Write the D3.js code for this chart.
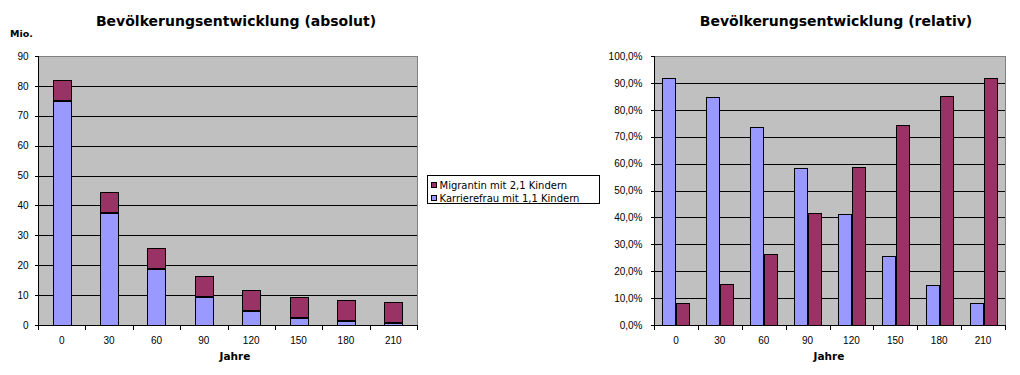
<!DOCTYPE html>
<html>
<head>
<meta charset="utf-8">
<script src="https://cdn.jsdelivr.net/npm/d3@7"></script>
<style>
  body { margin: 0; background: #fff; }
  svg { display: block; font-family: "DejaVu Sans", Verdana, sans-serif; }
  .axis path, .axis line { stroke: #000; shape-rendering: crispEdges; }
  .axis text { font-size: 10px; fill: #000; }
</style>
</head>
<body>
<svg id="chart" width="1020" height="375"></svg>
<script>
// Jahre
var years = ['0', '30', '60', '90', '120', '150', '180', '210'];
// absolut (Mio.)
var karriereAbs = [75, 37.5, 18.8, 9.4, 4.7, 2.3, 1.2, 0.6];
var migrantAbs = [6.6, 6.7, 6.7, 6.7, 6.7, 6.7, 6.7, 6.7];
// relativ (%)
var karriereRel = [91.9, 84.8, 73.7, 58.4, 41.1, 25.7, 14.9, 8.1];
var migrantRel = [8.1, 15.2, 26.3, 41.6, 58.9, 74.3, 85.1, 91.9];
var absTicks = [0, 10, 20, 30, 40, 50, 60, 70, 80, 90];
var relTicks = [0, 10, 20, 30, 40, 50, 60, 70, 80, 90, 100];

var seriesNames = ['Migrantin mit 2,1 Kindern', 'Karrierefrau mit 1,1 Kindern'];
var colors = { karriere: '#9999FF', migrant: '#993366' };

var svg = d3.select('#chart');
var de = d3.formatLocale({ decimal: ',', thousands: '.', grouping: [3], currency: ['', ' €'] });
var pct = de.format('.1f');
var r = Math.round;

function plotFrame(g, y, ticks, w, h, fmt, pad) {
  g.append('rect')
    .attr('x', 0.5).attr('y', 0.5).attr('width', w).attr('height', h)
    .attr('fill', '#C0C0C0').attr('stroke', '#808080')
    .attr('shape-rendering', 'crispEdges');

  // Gitternetz
  g.selectAll('.grid').data(ticks.slice(1, -1)).enter().append('line')
    .attr('x1', 0).attr('x2', w)
    .attr('y1', function(d) { return r(y(d)) + 0.5; })
    .attr('y2', function(d) { return r(y(d)) + 0.5; })
    .attr('stroke', '#000').attr('shape-rendering', 'crispEdges');

  g.append('g').attr('class', 'axis')
    .attr('transform', 'translate(0.5,0)')
    .call(d3.axisLeft(y).tickValues(ticks).tickSize(4).tickPadding(pad).tickFormat(fmt))
    .call(function(a) { a.select('.domain').attr('d', 'M0,' + (h + 0.5) + 'V0.5'); });
}

function xAxis(g, x, h) {
  var ax = g.append('g').attr('class', 'axis')
    .attr('transform', 'translate(0,' + (r(h) + 0.5) + ')')
    .call(d3.axisBottom(x).tickSize(0).tickPadding(11));
  ax.select('.domain').attr('d', 'M0,0H' + (x.range()[1] + 1));
  var bounds = years.map(function(c) { return x(c); }).concat([x.range()[1]]);
  ax.selectAll('.btick').data(bounds).enter().append('line')
    .attr('x1', function(d) { return r(d) + 0.5; })
    .attr('x2', function(d) { return r(d) + 0.5; })
    .attr('y1', 0).attr('y2', 4)
    .attr('stroke', '#000');
}

function bar(sel) {
  sel.attr('stroke', '#000').attr('stroke-width', 1).attr('shape-rendering', 'crispEdges');
}

// ---------- absolut ----------
var L = { left: 38, top: 56, w: 379, h: 269 };
var gl = svg.append('g').attr('transform', 'translate(' + L.left + ',' + L.top + ')');
var xl = d3.scaleBand().domain(years).range([0, L.w]);
var yl = d3.scaleLinear().domain([0, 90]).range([L.h, 0]);
plotFrame(gl, yl, absTicks, L.w, L.h, d3.format('d'), 6);

var barW = r(xl.bandwidth() * 0.38);
var stacked = years.map(function(c, i) {
  return { c: c, k: karriereAbs[i], m: migrantAbs[i] };
});
function bx(d) { return r(xl(d.c) + (xl.bandwidth() - barW) / 2) + 0.5; }
gl.selectAll('.bk').data(stacked).enter().append('rect')
  .attr('x', bx)
  .attr('y', function(d) { return r(yl(d.k)) + 0.5; })
  .attr('width', barW)
  .attr('height', function(d) { return r(yl(0)) - r(yl(d.k)); })
  .attr('fill', colors.karriere).call(bar);
gl.selectAll('.bm').data(stacked).enter().append('rect')
  .attr('x', bx)
  .attr('y', function(d) { return r(yl(d.k + d.m)) - 0.5; })
  .attr('width', barW)
  .attr('height', function(d) { return r(yl(d.k)) - r(yl(d.k + d.m)); })
  .attr('fill', colors.migrant).call(bar);
xAxis(gl, xl, L.h);

svg.append('text').attr('x', 236).attr('y', 26).attr('text-anchor', 'middle')
  .attr('font-size', '14px').attr('font-weight', 'bold')
  .text('Bevölkerungsentwicklung (absolut)');
svg.append('text').attr('x', 10).attr('y', 37)
  .attr('font-size', '9.5px').attr('font-weight', 'bold').text('Mio.');
svg.append('text').attr('x', 235).attr('y', 360).attr('text-anchor', 'middle')
  .attr('font-size', '10.5px').attr('font-weight', 'bold').text('Jahre');

// ---------- relativ ----------
var R = { left: 654, top: 56, w: 351, h: 269 };
var gr = svg.append('g').attr('transform', 'translate(' + R.left + ',' + R.top + ')');
var xr = d3.scaleBand().domain(years).range([0, R.w]);
var yr = d3.scaleLinear().domain([0, 100]).range([R.h, 0]);
plotFrame(gr, yr, relTicks, R.w, R.h, function(d) { return pct(d) + '%'; }, 8);

var subW = r(xr.bandwidth() * 0.285);
var xs = d3.scaleBand().domain(['k', 'm']).range([0, subW * 2 + 1]);
var rel = years.map(function(c, i) {
  return { c: c, vals: [{ s: 'k', v: karriereRel[i] }, { s: 'm', v: migrantRel[i] }] };
});
gr.selectAll('.grp').data(rel).enter().append('g')
  .attr('transform', function(d) { return 'translate(' + r(xr(d.c) + (xr.bandwidth() - xs.range()[1]) / 2) + ',0)'; })
  .selectAll('rect').data(function(d) { return d.vals; }).enter().append('rect')
  .attr('x', function(d) { return r(xs(d.s)) + 0.5; })
  .attr('y', function(d) { return r(yr(d.v)) + 0.5; })
  .attr('width', subW)
  .attr('height', function(d) { return r(yr(0)) - r(yr(d.v)); })
  .attr('fill', function(d) { return d.s === 'k' ? colors.karriere : colors.migrant; })
  .call(bar);
xAxis(gr, xr, R.h);

svg.append('text').attr('x', 836).attr('y', 26).attr('text-anchor', 'middle')
  .attr('font-size', '14px').attr('font-weight', 'bold')
  .text('Bevölkerungsentwicklung (relativ)');
svg.append('text').attr('x', 829).attr('y', 360).attr('text-anchor', 'middle')
  .attr('font-size', '10.5px').attr('font-weight', 'bold').text('Jahre');

// ---------- Legende ----------
var lg = svg.append('g').attr('transform', 'translate(427.5,175.5)');
lg.append('rect').attr('width', 172).attr('height', 28)
  .attr('fill', '#fff').attr('stroke', '#000').attr('shape-rendering', 'crispEdges');
var legendColors = [colors.migrant, colors.karriere];
var items = lg.selectAll('.li').data(seriesNames).enter().append('g')
  .attr('transform', function(d, i) { return 'translate(4,' + (7 + i * 13) + ')'; });
items.append('rect').attr('width', 5).attr('height', 5)
  .attr('fill', function(d, i) { return legendColors[i]; })
  .attr('stroke', '#000').attr('stroke-width', 1).attr('shape-rendering', 'crispEdges');
items.append('text').attr('x', 8).attr('y', 6)
  .attr('font-size', '10px').text(function(d) { return d; });
</script>
</body>
</html>
